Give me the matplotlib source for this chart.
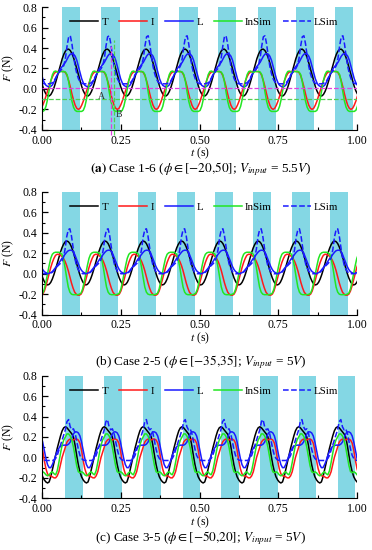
import numpy as np
import matplotlib
matplotlib.use('Agg')
import matplotlib.pyplot as plt

plt.rcParams['font.family'] = ['Liberation Serif', 'DejaVu Serif']
plt.rcParams['mathtext.fontset'] = 'stix'

bands_a = [0.064, 0.188, 0.311, 0.436, 0.559, 0.684, 0.806, 0.929]
bands_b = [0.063, 0.185, 0.306, 0.428, 0.550, 0.671, 0.793, 0.913]
bands_c = [0.074, 0.197, 0.322, 0.446, 0.568, 0.692, 0.814, 0.938]
band_w = [0.058, 0.057, 0.056]

# one flapping cycle per curve, 24 samples from the start of a band (N)
T_a = [0.295, 0.339, 0.370, 0.387, 0.389, 0.375, 0.346, 0.305, 0.254, 0.196, 0.136, 0.078,
       0.025, -0.019, -0.050, -0.067, -0.069, -0.055, -0.026, 0.015, 0.066, 0.124, 0.184, 0.242]
I_a = [0.17, 0.17, 0.16, 0.13, 0.08, 0.02, -0.05, -0.11, -0.16, -0.19, -0.20, -0.19,
       -0.16, -0.12, -0.07, -0.02, 0.03, 0.08, 0.12, 0.15, 0.165, 0.17, 0.17, 0.175]
L_a = [0.22, 0.24, 0.26, 0.29, 0.32, 0.34, 0.345, 0.34, 0.32, 0.28, 0.22, 0.16,
       0.10, 0.06, 0.035, 0.025, 0.02, 0.025, 0.04, 0.07, 0.10, 0.14, 0.17, 0.20]
InSim_a = [0.17, 0.17, 0.165, 0.14, 0.07, -0.03, -0.12, -0.18, -0.21, -0.22, -0.22, -0.22,
           -0.22, -0.21, -0.17, -0.10, -0.01, 0.08, 0.14, 0.17, 0.175, 0.165, 0.16, 0.17]
LSim_a = [0.20, 0.23, 0.30, 0.42, 0.51, 0.52, 0.44, 0.32, 0.22, 0.15, 0.10, 0.07,
          0.055, 0.05, 0.05, 0.05, 0.05, 0.055, 0.06, 0.08, 0.11, 0.14, 0.16, 0.18]

T_b = [0.252, 0.287, 0.311, 0.320, 0.314, 0.295, 0.262, 0.219, 0.168, 0.113, 0.057, 0.004,
       -0.042, -0.077, -0.101, -0.110, -0.104, -0.085, -0.052, -0.009, 0.042, 0.097, 0.153, 0.206]
I_b = [0.17, 0.15, 0.12, 0.08, 0.03, -0.03, -0.09, -0.14, -0.18, -0.20, -0.21, -0.21,
       -0.20, -0.17, -0.12, -0.06, 0.00, 0.06, 0.11, 0.15, 0.18, 0.19, 0.19, 0.18]
L_b = [0.15, 0.17, 0.19, 0.21, 0.225, 0.23, 0.23, 0.22, 0.19, 0.15, 0.11, 0.07,
       0.04, 0.02, 0.01, 0.005, 0.005, 0.01, 0.02, 0.04, 0.06, 0.08, 0.10, 0.125]
InSim_b = [0.19, 0.14, 0.06, -0.04, -0.13, -0.18, -0.20, -0.205, -0.205, -0.205, -0.205, -0.20,
           -0.19, -0.15, -0.08, 0.00, 0.08, 0.15, 0.19, 0.205, 0.21, 0.21, 0.21, 0.205]
LSim_b = [0.12, 0.16, 0.24, 0.36, 0.43, 0.44, 0.37, 0.26, 0.16, 0.09, 0.05, 0.02,
          0.01, 0.0, 0.0, 0.0, 0.0, 0.005, 0.015, 0.03, 0.05, 0.07, 0.085, 0.10]

T_c = [0.30, 0.29, 0.27, 0.25, 0.23, 0.20, 0.12, 0.02, -0.07, -0.14, -0.19, -0.22,
       -0.24, -0.25, -0.24, -0.19, -0.12, -0.05, 0.02, 0.09, 0.15, 0.21, 0.26, 0.29]
I_c = [0.10, 0.15, 0.17, 0.18, 0.175, 0.17, 0.18, 0.18, 0.17, 0.14, 0.07, -0.03,
       -0.11, -0.16, -0.18, -0.18, -0.19, -0.20, -0.20, -0.18, -0.14, -0.07, 0.0, 0.05]
L_c = [0.12, 0.12, 0.13, 0.15, 0.19, 0.23, 0.25, 0.25, 0.24, 0.21, 0.15, 0.07,
       -0.01, -0.07, -0.10, -0.10, -0.07, -0.03, 0.02, 0.06, 0.09, 0.11, 0.115, 0.12]
InSim_c = [0.20, 0.23, 0.23, 0.21, 0.17, 0.10, 0.01, -0.08, -0.14, -0.15, -0.14, -0.15,
           -0.17, -0.18, -0.17, -0.15, -0.14, -0.16, -0.17, -0.13, -0.05, 0.04, 0.12, 0.17]
LSim_c = [0.27, 0.35, 0.37, 0.30, 0.27, 0.28, 0.24, 0.16, 0.08, 0.02, -0.01, -0.025,
          -0.03, -0.03, -0.03, -0.03, -0.03, -0.025, -0.01, 0.02, 0.07, 0.12, 0.17, 0.22]

captions = [r'$\mathbf{(a)}$ Case 1-6 ($\phi \in [-20{,}50]$; $V_{input}$ = 5.5$V$)',
            r'(b) Case 2-5 ($\phi \in [-35{,}35]$; $V_{input}$ = 5$V$)',
            r'(c) Case 3-5 ($\phi \in [-50{,}20]$; $V_{input}$ = 5$V$)']
names = ['T', 'I', 'L', 'InSim', 'LSim']
colors = ['black', '#ff1a1a', '#1a1aff', '#22e622', '#1a1aff']
styles = ['-', '-', '-', '-', '--']

panels = [(bands_a, [T_a, I_a, L_a, InSim_a, LSim_a]),
          (bands_b, [T_b, I_b, L_b, InSim_b, LSim_b]),
          (bands_c, [T_c, I_c, L_c, InSim_c, LSim_c])]
ax_bottom = [0.764, 0.428, 0.094]
cap_y = [0.676, 0.326, 0.006]

fig = plt.figure(figsize=(3.72, 5.5), dpi=100)
for k in range(3):
    bands, curves = panels[k]
    ax = fig.add_axes([0.113, ax_bottom[k], 0.847, 0.223])
    for b in bands:
        ax.axvspan(b, b + band_w[k], color='#84d7e4', lw=0, zorder=0)
    period = (bands[-1] - bands[0]) / (len(bands) - 1)
    n = len(curves[0])
    ncyc = 10
    t = bands[0] - period + np.arange(n * ncyc + 1) * period / n
    for y, nm, c, ls in zip(curves, names, colors, styles):
        yy = np.append(np.tile(y, ncyc), y[0])
        ax.plot(t, yy, color=c, ls=ls, lw=1.1, label=nm, zorder=2)
    if k == 0:
        ax.axhline(0.01, color='#e040e0', ls='--', lw=0.9, zorder=3)
        ax.axhline(-0.10, color='#50d050', ls='--', lw=0.9, zorder=3)
        ax.plot([0.218, 0.218], [-0.45, 0.42], color='#e040e0', ls='--', lw=0.9,
                clip_on=False, zorder=3)
        ax.plot([0.227, 0.227], [-0.45, 0.48], color='#50d050', ls='--', lw=0.9,
                clip_on=False, zorder=3)
        ax.text(0.19, -0.07, 'A', fontsize=7, color='#333333', ha='center', va='center')
        ax.text(0.243, -0.25, 'B', fontsize=7, color='#333333', ha='center', va='center')
    ax.set_xlim(0, 1)
    ax.set_ylim(-0.4, 0.8)
    ax.set_xticks([0, 0.25, 0.5, 0.75, 1.0])
    ax.set_xticklabels(['0.00', '0.25', '0.50', '0.75', '1.00'])
    ax.set_xticks(np.arange(0.125, 1, 0.25), minor=True)
    ax.set_yticks(np.arange(-0.4, 0.81, 0.2))
    ax.set_yticklabels(['%.1f' % v for v in np.arange(-0.4, 0.81, 0.2)])
    ax.set_yticks(np.arange(-0.3, 0.8, 0.2), minor=True)
    ax.spines['top'].set_visible(False)
    ax.spines['right'].set_visible(False)
    ax.tick_params(direction='in', labelsize=8.5, length=4, width=0.9, pad=3.5)
    ax.tick_params(which='minor', direction='in', length=2.5, width=0.8)
    ax.set_xlabel('$t$ (s)', fontsize=8.5, labelpad=-0.5)
    ax.set_ylabel('$F$ (N)', fontsize=8.5, labelpad=2)
    ax.legend(ncol=5, loc='center left', bbox_to_anchor=(0.075, 0.875), frameon=False,
              fontsize=7.8, handlelength=2.6, handletextpad=0.3, columnspacing=1.0,
              borderaxespad=0)
    fig.text(0.54, cap_y[k], captions[k], ha='center', va='bottom', fontsize=9.5)

fig.savefig('out.png', dpi=100)
